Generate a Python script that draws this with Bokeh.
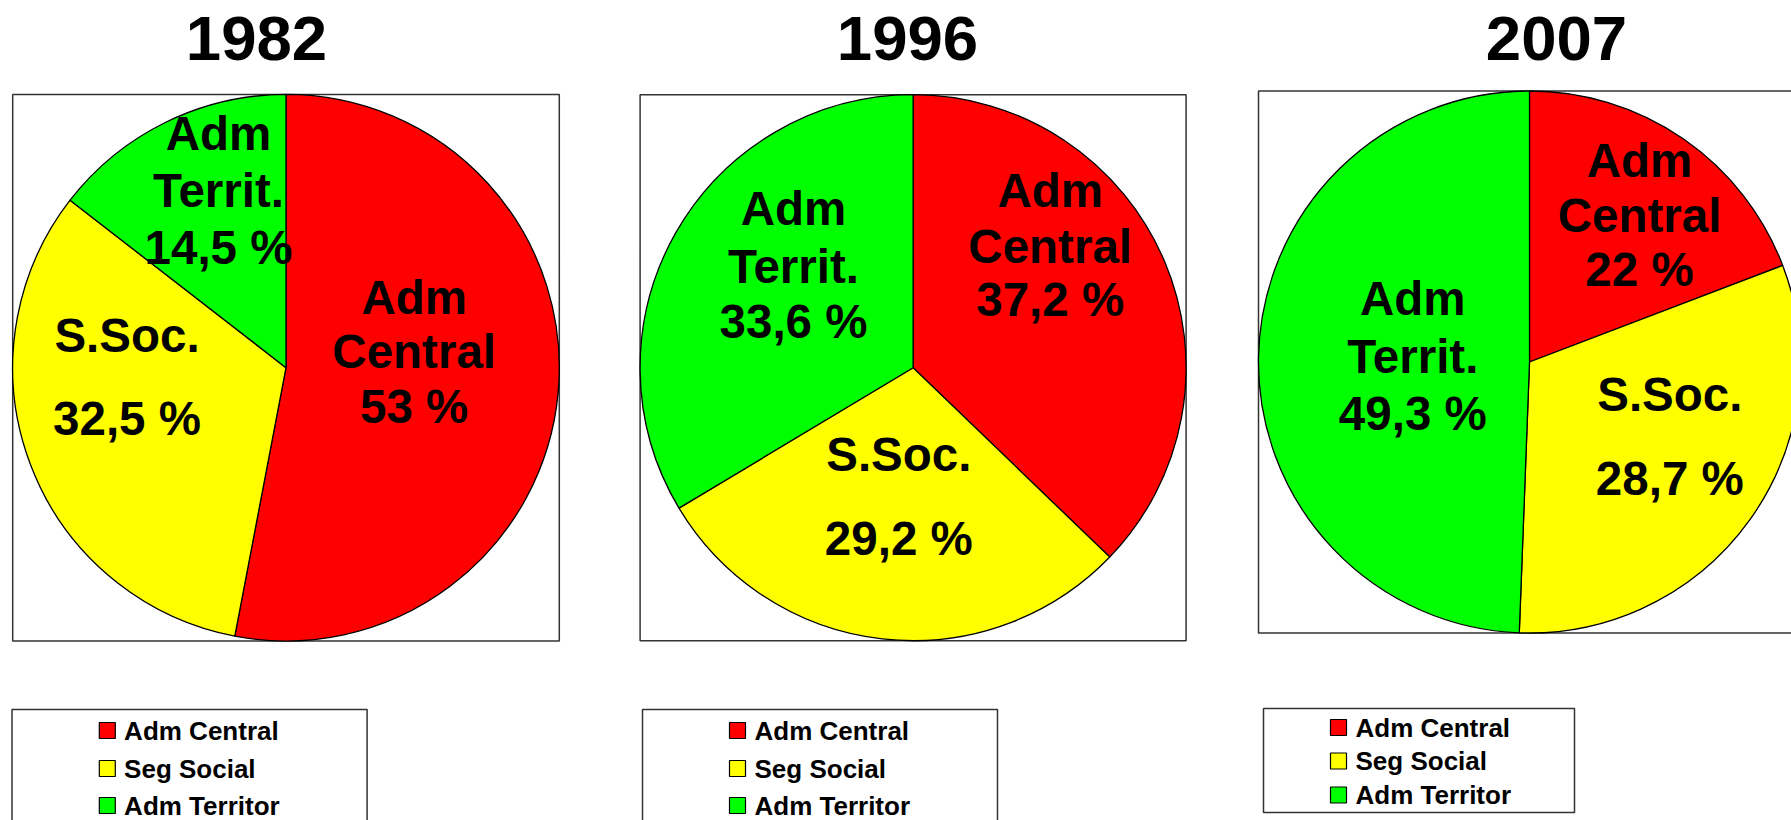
import numpy as np
from bokeh.plotting import figure
from bokeh.models import Range1d
from bokeh.core.properties import value
from bokeh.embed import file_html
from bokeh.resources import INLINE

# ---------------- data ----------------
years = ["1982", "1996", "2007"]
categories = ["Adm Central", "Seg Social", "Adm Territor"]
colors = ["#FF0000", "#FFFF00", "#00FF00"]
# slice shares as drawn (percent)
shares_1982 = [53.0, 32.5, 14.5]
shares_1996 = [37.2, 29.2, 33.6]
shares_2007 = [19.2, 31.4, 49.4]
# slice labels as printed
labels_1982 = [["Adm", "Central", "53 %"], ["S.Soc.", "32,5 %"], ["Adm", "Territ.", "14,5 %"]]
labels_1996 = [["Adm", "Central", "37,2 %"], ["S.Soc.", "29,2 %"], ["Adm", "Territ.", "33,6 %"]]
labels_2007 = [["Adm", "Central", "22 %"], ["S.Soc.", "28,7 %"], ["Adm", "Territ.", "49,3 %"]]

shares = [shares_1982, shares_1996, shares_2007]
labels = [labels_1982, labels_1996, labels_2007]

# ---------------- layout (screen pixel coordinates of the reference) ----------------
W, H = 1791, 820
FONT = value("Liberation Sans")
K = 0.36  # baseline correction (fraction of font size)
FS_LAB, FS_TITLE, FS_LEG = 47.5, 63.5, 26

panels = [
    dict(cx=285.5, cy=367.2, r=273.3, tx=256,
         lab=[(413.7, [314, 368.3, 422.7]), (126.5, [352, 435]), (218, [150, 206.7, 264.3])],
         leg=dict(x0=11.5, x1=366.6, y0=709, y1=840, sq=106.8, tx=123.6, rows=[730, 768, 805])),
    dict(cx=912.6, cy=367.2, r=273.0, tx=907,
         lab=[(1049.7, [206.7, 263.3, 316]), (898.3, [471.5, 555]), (793, [225, 282.7, 338.3])],
         leg=dict(x0=642, x1=997, y0=709, y1=840, sq=737, tx=754, rows=[730, 768, 805])),
    dict(cx=1529.0, cy=361.5, r=271.0, tx=1556,
         lab=[(1639, [177.3, 231.7, 286]), (1669.3, [411.5, 495]), (1412.3, [315, 373.3, 430])],
         leg=dict(x0=1263, x1=1574, y0=708, y1=812, sq=1338, tx=1355, rows=[727, 760.5, 794.5])),
]

def Y(s):
    return -np.asarray(s, dtype=float)

def TY(s, fs):
    return -(np.asarray(s, dtype=float) - K * fs)

p = figure(width=W, height=H, output_backend="svg", toolbar_location=None,
           x_range=Range1d(0, W), y_range=Range1d(-H, 0),
           x_axis_location=None, y_axis_location=None, min_border=0)
p.outline_line_color = None
p.grid.visible = False
p.background_fill_color = "white"

for i, pan in enumerate(panels):
    cx, cy, r = pan["cx"], pan["cy"], pan["r"]
    # frame box around pie
    p.quad(left=[cx - r], right=[cx + r], top=Y([cy - r]), bottom=Y([cy + r]),
           fill_color=None, line_color="#333333", line_width=1.5)
    # pie slices, clockwise from 12 o'clock
    v = np.array(shares[i], dtype=float)
    frac = v / v.sum()
    c1 = np.cumsum(frac)
    c0 = c1 - frac
    start = np.pi / 2 - 2 * np.pi * c0
    end = np.pi / 2 - 2 * np.pi * c1
    p.wedge(x=[cx] * 3, y=list(Y([cy] * 3)), radius=r, start_angle=list(start), end_angle=list(end),
            direction="clock", fill_color=colors, line_color="black", line_width=1.3)
    # slice labels
    for (lx, bases), lines in zip(pan["lab"], labels[i]):
        p.text(x=[lx] * len(lines), y=list(TY(bases, FS_LAB)), text=lines, text_font=FONT,
               text_font_style="bold", text_font_size=f"{FS_LAB}px", text_color="black",
               text_align="center", text_baseline="alphabetic")
    # title
    p.text(x=[pan["tx"]], y=list(TY([61], FS_TITLE)), text=[years[i]], text_font=FONT,
           text_font_style="bold", text_font_size=f"{FS_TITLE}px", text_color="black",
           text_align="center", text_baseline="alphabetic")
    # legend box
    lg = pan["leg"]
    p.quad(left=[lg["x0"]], right=[lg["x1"]], top=Y([lg["y0"]]), bottom=Y([lg["y1"]]),
           fill_color="white", line_color="#333333", line_width=1.5)
    p.rect(x=[lg["sq"]] * 3, y=list(Y(lg["rows"])), width=16, height=16,
           fill_color=colors, line_color="black", line_width=1.2)
    p.text(x=[lg["tx"]] * 3, y=list(TY(np.array(lg["rows"]) + 9.5, FS_LEG)), text=categories,
           text_font=FONT, text_font_style="bold", text_font_size=f"{FS_LEG}px", text_color="black",
           text_align="left", text_baseline="alphabetic")

open("out.html", "w").write(file_html(p, INLINE))
